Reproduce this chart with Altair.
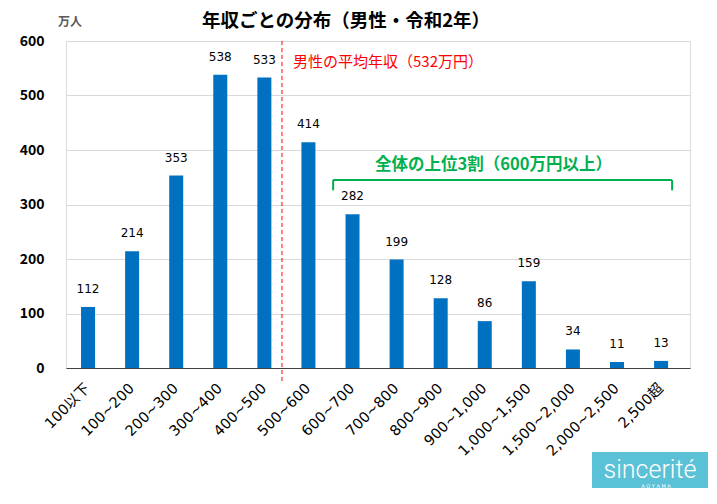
import altair as alt
import pandas as pd

categories = ["100以下", "100~200", "200~300", "300~400", "400~500", "500~600",
              "600~700", "700~800", "800~900", "900~1,000", "1,000~1,500",
              "1,500~2,000", "2,000~2,500", "2,500超"]
values = [112, 214, 353, 538, 533, 414, 282, 199, 128, 86, 159, 34, 11, 13]

mean_label = "男性の平均年収（532万円）"
top_label = "全体の上位3割（600万円以上）"
title_text = "年収ごとの分布（男性・令和2年）"
unit_text = "万人"

df = pd.DataFrame({"cat": categories, "val": values})

W, H = 624, 327
JP = "Noto Sans CJK JP"
NUM = "DejaVu Sans, Noto Sans CJK JP"

xscale = alt.Scale(domain=categories, paddingInner=0, paddingOuter=0.078, align=0)
yscale = alt.Scale(domain=[0, 600])

xenc = alt.X("cat:N", sort=categories, scale=xscale,
             axis=alt.Axis(title=None, labelAngle=-45, labelAlign="right",
                           labelBaseline="middle", labelFont=NUM, labelFontSize=14.5,
                           labelColor="#000000", ticks=False, labelPadding=18,
                           domainColor="#404040", domainWidth=1.2, grid=False))
yenc = alt.Y("val:Q", scale=yscale,
             axis=alt.Axis(title=None, values=[0, 100, 200, 300, 400, 500, 600],
                           labelFont=JP, labelFontWeight="bold", labelFontSize=14,
                           labelColor="#000000", ticks=False, domain=False,
                           labelPadding=22, gridColor="#D9D9D9", gridWidth=1))

bars = alt.Chart(df).mark_bar(color="#0070C0", size=14).encode(x=xenc, y=yenc)

labels = alt.Chart(df).mark_text(font="DejaVu Sans", fontSize=12, color="#000000",
                                 baseline="alphabetic", dy=-14).encode(
    x=alt.X("cat:N", sort=categories, scale=xscale),
    y=alt.Y("val:Q", scale=yscale), text="val:Q")

# mean line
mean_df = pd.DataFrame({"cat": ["400~500"]})
mean_rule = alt.Chart(mean_df).mark_rule(color="#FF0000", strokeDash=[4, 3], strokeWidth=1).encode(
    x=alt.X("cat:N", scale=xscale, bandPosition=0.9),
    y=alt.value(0), y2=alt.value(H + 16))

mean_text_df = pd.DataFrame({"cat": ["500~600"], "y": [561], "t": [mean_label]})
mean_text = alt.Chart(mean_text_df).mark_text(font=JP, fontSize=15, color="#FF0000",
                                              align="left", baseline="middle").encode(
    x=alt.X("cat:N", scale=xscale, bandPosition=0.15),
    y=alt.Y("y:Q", scale=yscale), text="t:N")

# bracket
br_h = pd.DataFrame({"cat": ["600~700"], "cat2": ["2,500超"], "y": [345]})
bracket_h = alt.Chart(br_h).mark_rule(color="#00B050", strokeWidth=2).encode(
    x=alt.X("cat:N", scale=xscale, bandPosition=0.06),
    x2=alt.X2("cat2:N", bandPosition=0.75),
    y=alt.Y("y:Q", scale=yscale))
br_l = pd.DataFrame({"cat": ["600~700"], "y": [345], "y2": [326]})
bracket_l = alt.Chart(br_l).mark_rule(color="#00B050", strokeWidth=2).encode(
    x=alt.X("cat:N", scale=xscale, bandPosition=0.06),
    y=alt.Y("y:Q", scale=yscale), y2="y2:Q")
br_r = pd.DataFrame({"cat": ["2,500超"], "y": [345], "y2": [326]})
bracket_r = alt.Chart(br_r).mark_rule(color="#00B050", strokeWidth=2).encode(
    x=alt.X("cat:N", scale=xscale, bandPosition=0.75),
    y=alt.Y("y:Q", scale=yscale), y2="y2:Q")
top_df = pd.DataFrame({"cat": ["900~1,000"], "y": [373], "t": [top_label]})
top_text = alt.Chart(top_df).mark_text(font=JP, fontSize=16.5, fontWeight="bold",
                                       color="#00B050", baseline="middle").encode(
    x=alt.X("cat:N", scale=xscale, bandPosition=0.7),
    y=alt.Y("y:Q", scale=yscale), text="t:N")

# title and unit
title = alt.Chart(pd.DataFrame({"t": [title_text]})).mark_text(
    font=JP, fontSize=18.5, fontWeight="bold", color="#000000", baseline="middle").encode(
    x=alt.value(280), y=alt.value(-20), text="t:N")
unit = alt.Chart(pd.DataFrame({"t": [unit_text]})).mark_text(
    font=JP, fontSize=12, fontWeight="bold", color="#595959", baseline="middle").encode(
    x=alt.value(4), y=alt.value(-19), text="t:N")

# logo
logo_box = alt.Chart(pd.DataFrame({"a": [0]})).mark_rect(color="#5BC1D6").encode(
    x=alt.value(526), x2=alt.value(642), y=alt.value(411), y2=alt.value(449))
logo_text = alt.Chart(pd.DataFrame({"t": ["sincerité"]})).mark_text(
    font="Roboto", fontWeight=300, fontSize=25, color="#FFFFFF", baseline="alphabetic").encode(
    x=alt.value(584), y=alt.value(437), text="t:N")
logo_sub = alt.Chart(pd.DataFrame({"t": ["A O Y A M A"]})).mark_text(
    font="DejaVu Sans", fontSize=5, color="#FFFFFF", baseline="middle").encode(
    x=alt.value(590), y=alt.value(445), text="t:N")

chart = alt.layer(bars, labels, mean_rule, mean_text, bracket_h, bracket_l, bracket_r,
                  top_text, title, unit, logo_box, logo_text, logo_sub).properties(
    width=W, height=H,
    padding={"left": 58, "top": 33, "right": 18, "bottom": 120},
    autosize=alt.AutoSizeParams(type="none"),
).configure_view(stroke=None).configure(background="#FFFFFF")

chart.save("out.html", embed_options={"renderer": "svg", "actions": False})
